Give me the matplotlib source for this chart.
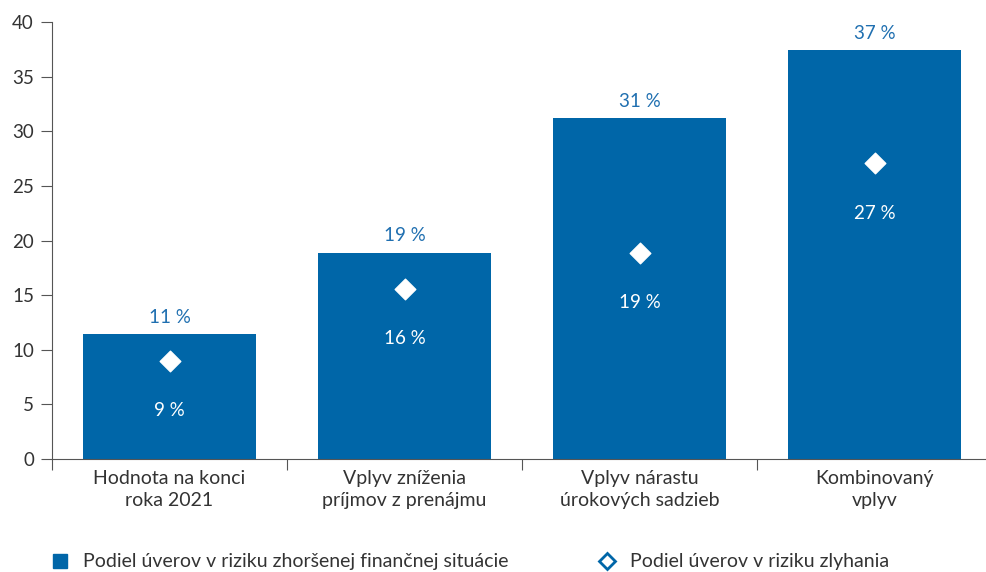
import matplotlib
matplotlib.use('Agg')
import matplotlib.pyplot as plt
from matplotlib.lines import Line2D
from matplotlib.patches import Patch

plt.rcParams['font.family'] = ['Lato', 'DejaVu Sans']

categories = ['Hodnota na konci\nroka 2021', 'Vplyv zníženia\npríjmov z prenájmu',
              'Vplyv nárastu\núrokových sadzieb', 'Kombinovaný\nvplyv']
share_stress = [11.4, 18.9, 31.2, 37.4]
share_default = [9.0, 15.6, 18.9, 27.1]
labels_stress = ['11 %', '19 %', '31 %', '37 %']
labels_default = ['9 %', '16 %', '19 %', '27 %']

blue = '#0066a8'
label_blue = '#1f6fb0'
text_col = '#333333'

fig = plt.figure(figsize=(9.86, 5.72), dpi=100)
ax = fig.add_axes([52 / 986, 1 - 459 / 572, 934 / 986, 437 / 572])

x = list(range(len(categories)))
ax.bar(x, share_stress, width=0.74, color=blue, zorder=2)
ax.scatter(x, share_default, marker='D', s=110, color='white', edgecolors='white', zorder=3)

for i in x:
    ax.text(i, share_stress[i] + 0.75, labels_stress[i], ha='center', va='bottom',
            color=label_blue, fontsize=13.5)
    ax.text(i, share_default[i] - 4.6, labels_default[i], ha='center', va='center',
            color='white', fontsize=13.5)

ax.set_xlim(-0.5, -0.5 + 934 / 235)
ax.set_ylim(0, 40)
ax.set_yticks(range(0, 41, 5))
ax.tick_params(axis='y', length=8, width=0.8, color='#555555', labelsize=13.5,
               labelcolor=text_col, pad=5)
ax.set_xticks(x)
ax.set_xticklabels(categories, fontsize=14, color=text_col, linespacing=1.35)
ax.tick_params(axis='x', length=0, pad=8)
ax.set_xticks([-0.5, 0.5, 1.5, 2.5], minor=True)
ax.tick_params(axis='x', which='minor', length=8, width=0.8, color='#555555')

for s in ['top', 'right']:
    ax.spines[s].set_visible(False)
for s in ['left', 'bottom']:
    ax.spines[s].set_color('#555555')
    ax.spines[s].set_linewidth(0.8)

handles = [Patch(facecolor=blue, edgecolor=blue),
           Line2D([], [], marker='D', linestyle='none', markersize=8,
                  markerfacecolor='white', markeredgecolor=blue, markeredgewidth=2)]
leg_labels = ['Podiel úverov v riziku zhoršenej finančnej situácie',
              'Podiel úverov v riziku zlyhania']
fig.legend(handles, leg_labels, loc='center left', bbox_to_anchor=(0.036, 1 - 562 / 572),
           ncol=2, frameon=False, fontsize=14, labelcolor=text_col,
           columnspacing=4.7, handlelength=0.7, handleheight=0.7, handletextpad=0.85)

fig.savefig('out.png', dpi=100)
